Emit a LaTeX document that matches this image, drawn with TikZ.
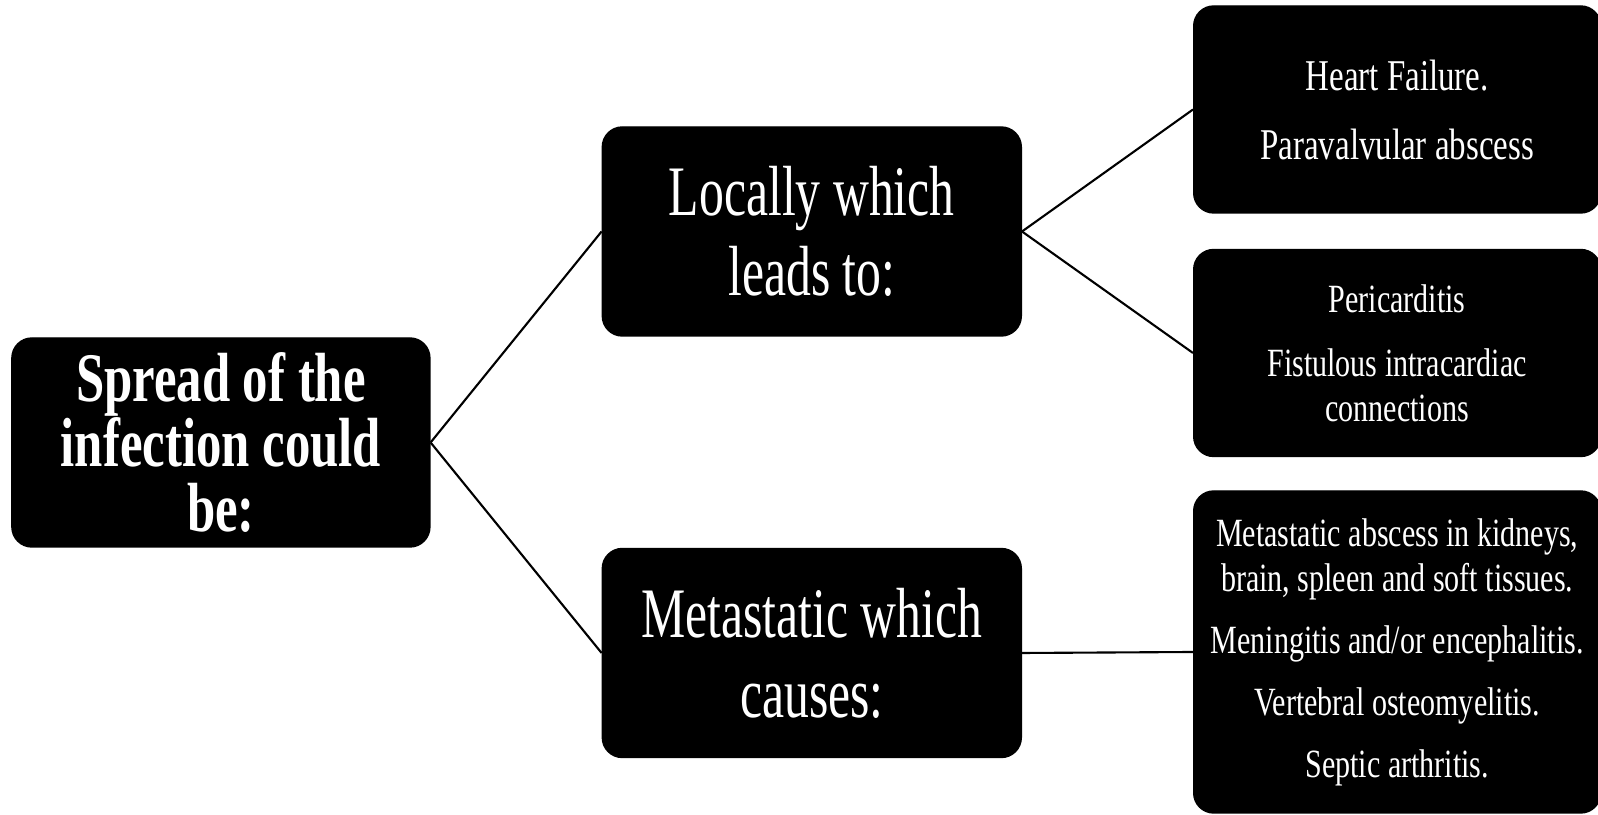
\documentclass[tikz,border=0pt]{standalone}
\usepackage{fontspec}
\setmainfont{Liberation Serif}
\newfontfamily\etroite[FakeStretch=0.70]{Liberation Serif}
\newfontfamily\etroitefine[FakeStretch=0.75]{Liberation Serif}
\newfontfamily\grasse[FakeStretch=0.73]{Liberation Serif}
\usetikzlibrary{positioning}
\tikzset{
  racine/.style={rectangle, rounded corners=2mm, draw=black, fill=black,
    text=white, font=\grasse\bfseries\fontsize{19.8}{18.6}\selectfont,
    minimum width=41.8mm, minimum height=20.9mm, align=center, inner sep=0pt},
  branche/.style={racine, font=\etroite\fontsize{20.2}{22.8}\selectfont,
    minimum width=41.9mm},
  feuille/.style={racine, font=\etroitefine\fontsize{11.4}{12.8}\selectfont,
    minimum width=40.7mm, minimum height=20.7mm},
  trait/.style={line width=0.6pt, color=black}
}
\begin{document}
\begin{tikzpicture}[node distance=5mm and 17.1mm]
    \useasboundingbox (0,0) rectangle (15.98,-8.15);

    \node[racine] (spread) at (2.209,-4.425) {Spread of the\\ infection could\\ be:};

    \node[branche, right=of spread, yshift=21.1mm] (local) {Locally which\\ leads to:};
    \node[branche, right=of spread, yshift=-21.05mm] (meta) {Metastatic which\\ causes:};

    \node[feuille, right=of local, yshift=12.2mm,
      font=\etroitefine\fontsize{12.5}{12.8}\selectfont] (coeur) {Heart Failure.\\[2.4mm] Paravalvular abscess};
    \node[feuille, right=of local, yshift=-12.15mm] (peri) {Pericarditis\\[1.9mm] Fistulous intracardiac\\ connections};
    \node[feuille, right=of meta, minimum height=32.2mm, yshift=0.1mm] (absces) {Metastatic abscess in kidneys,\\ brain, spleen and soft tissues.\\[1.7mm]
      Meningitis and/or encephalitis.\\[1.7mm] Vertebral osteomyelitis.\\[1.7mm] Septic arthritis.};

    \draw[trait] (spread.east) -- (local.west);
    \draw[trait] (spread.east) -- (meta.west);
    \draw[trait] (local.east) -- (coeur.west);
    \draw[trait] (local.east) -- (peri.west);
    \draw[trait] (meta.east) -- (absces.west);
  \end{tikzpicture}
\end{document}
